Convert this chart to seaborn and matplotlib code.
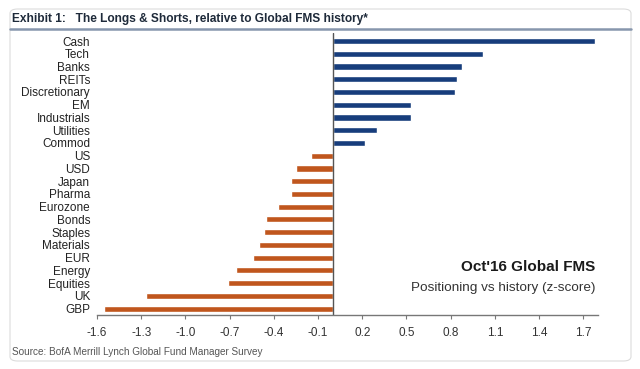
import matplotlib
matplotlib.use("Agg")
import matplotlib.pyplot as plt
from matplotlib import font_manager
from matplotlib.patches import FancyBboxPatch
from matplotlib.lines import Line2D
import pandas as pd
import seaborn as sns

# Global FMS positioning, z-score vs history
categories = ['Cash', 'Tech', 'Banks', 'REITs', 'Discretionary', 'EM', 'Industrials',
              'Utilities', 'Commod', 'US', 'USD', 'Japan', 'Pharma', 'Eurozone', 'Bonds',
              'Staples', 'Materials', 'EUR', 'Energy', 'Equities', 'UK', 'GBP']
zscores = [1.78, 1.02, 0.88, 0.84, 0.83, 0.53, 0.53, 0.30, 0.22, -0.15, -0.25, -0.285,
           -0.285, -0.37, -0.45, -0.465, -0.50, -0.54, -0.66, -0.71, -1.27, -1.55]
xticks = [-1.6, -1.3, -1.0, -0.7, -0.4, -0.1, 0.2, 0.5, 0.8, 1.1, 1.4, 1.7]

df = pd.DataFrame({'cat': categories, 'z': zscores})
df['side'] = ['long' if v > 0 else 'short' for v in df['z']]

sns.set_style('white')
names = {f.name for f in font_manager.fontManager.ttflist}
narrow = 'Liberation Sans Narrow' if 'Liberation Sans Narrow' in names else 'Liberation Sans'
plt.rcParams['font.family'] = [narrow, 'DejaVu Sans']

fig = plt.figure(figsize=(6.4, 3.69), dpi=100)
W, H = 640, 369

# rounded panel frame (behind everything)
frame = FancyBboxPatch((10 / W, 8 / H), 621 / W, 352 / H,
                       boxstyle='round,pad=0,rounding_size=0.012',
                       transform=fig.transFigure, facecolor='none',
                       edgecolor='#dcdcdc', lw=0.8, zorder=-5)
fig.patches.append(frame)
fig.lines.append(Line2D([10 / W, 631 / W], [1 - 29 / H, 1 - 29 / H],
                        transform=fig.transFigure, color='#8796ad', lw=1.8))
fig.text(12 / W, 1 - 19 / H, 'Exhibit 1:   The Longs & Shorts, relative to Global FMS history*',
         fontsize=8.6, fontweight='bold', color='#1e2a3a', va='center', ha='left')
fig.text(12 / W, 1 - 352 / H, 'Source: BofA Merrill Lynch Global Fund Manager Survey',
         fontsize=7.2, color='#555555', va='center', ha='left')

ax = fig.add_axes([97 / W, 1 - 315 / H, 501 / W, 282 / H])
ax.patch.set_alpha(0)
sns.barplot(data=df, x='z', y='cat', hue='side', orient='h', dodge=False,
            palette={'long': '#173d7c', 'short': '#c0561d'}, width=0.48,
            legend=False, ax=ax, saturation=1)

ax.set_xlim(-1.6, 1.8)
ax.set_ylim(21.5, -0.63)
ax.set_xticks(xticks)
ax.set_xticklabels([f'{t:.1f}' for t in xticks])
ax.axvline(0, color='#555555', lw=1)
ax.set_xlabel('')
ax.set_ylabel('')
for s in ['top', 'right', 'left']:
    ax.spines[s].set_visible(False)
ax.spines['bottom'].set_color('#777777')
ax.spines['bottom'].set_linewidth(1)
ax.tick_params(axis='x', direction='out', length=3, width=0.8, color='#777777',
               labelsize=8.5, labelcolor='#333333', pad=6, bottom=True)
ax.tick_params(axis='y', length=0, labelsize=8.5, labelcolor='#222222', pad=5)

ax.text(0.995, 0.17, "Oct'16 Global FMS", transform=ax.transAxes, ha='right',
        va='center', fontsize=11, fontweight='bold', color='#1a1a1a')
ax.text(0.995, 0.095, 'Positioning vs history (z-score)', transform=ax.transAxes,
        ha='right', va='center', fontsize=9.7, color='#333333')

fig.savefig('out.png', dpi=100)
